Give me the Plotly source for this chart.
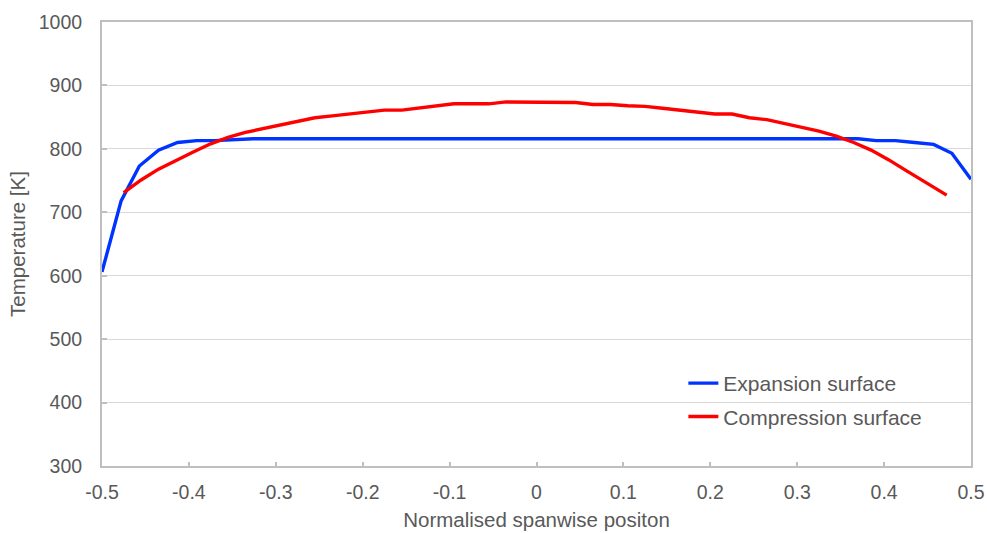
import plotly.graph_objects as go

# Expansion surface (blue)
exp_x = [-0.5, -0.478, -0.457, -0.435, -0.413, -0.391, -0.370, -0.348, -0.326,
         -0.2, 0.0, 0.2, 0.348, 0.370, 0.391, 0.413, 0.435, 0.457, 0.478, 0.5]
exp_y = [606, 718, 773, 798, 810, 813, 813, 814, 816,
         816, 816, 816, 816, 816, 813, 813, 810, 807, 793, 752]

# Compression surface (red)
comp_x = [-0.475, -0.455, -0.435, -0.415, -0.395, -0.375, -0.355, -0.335, -0.315,
          -0.295, -0.275, -0.255, -0.235, -0.215, -0.195, -0.175, -0.155, -0.135,
          -0.115, -0.095, -0.075, -0.055, -0.035, -0.015, 0.005, 0.025, 0.045,
          0.065, 0.085, 0.105, 0.125, 0.145, 0.165, 0.185, 0.205, 0.225, 0.245,
          0.265, 0.285, 0.305, 0.325, 0.345, 0.365, 0.385, 0.405, 0.425, 0.445,
          0.472]
comp_y = [731, 751, 768, 782, 795, 808, 818, 826, 832,
          838, 843, 849, 852, 855, 858, 861, 861, 864,
          868, 871, 871, 871, 874, 874, 874, 874, 873,
          870, 870, 868, 867, 864, 861, 857, 855, 855, 849,
          846, 840, 835, 828, 820, 810, 798, 783, 766, 749,
          727]

x_ticks = [-0.5, -0.4, -0.3, -0.2, -0.1, 0, 0.1, 0.2, 0.3, 0.4, 0.5]
x_labels = ["-0.5", "-0.4", "-0.3", "-0.2", "-0.1", "0", "0.1", "0.2", "0.3", "0.4", "0.5"]
y_ticks = [300, 400, 500, 600, 700, 800, 900, 1000]

FONT = "Liberation Sans, Arial, sans-serif"
TXT = "#595959"

fig = go.Figure()
fig.add_trace(go.Scatter(x=exp_x, y=exp_y, mode="lines", name="Expansion surface",
                         legendgroup="a",
                         line=dict(color="#0033FF", width=3.4)))
fig.add_trace(go.Scatter(x=comp_x, y=comp_y, mode="lines", name="Compression surface",
                         legendgroup="b",
                         line=dict(color="#FF0000", width=3.4)))

fig.update_layout(
    width=987, height=533,
    margin=dict(l=102, r=16, t=22, b=67, autoexpand=False),
    paper_bgcolor="white", plot_bgcolor="white",
    font=dict(family=FONT, color=TXT, size=18),
    showlegend=True,
    legend=dict(x=0.669, y=0.232, xanchor="left", yanchor="top",
                font=dict(size=21, color=TXT, family=FONT),
                traceorder="grouped", tracegroupgap=3,
                bgcolor="rgba(0,0,0,0)"),
)
fig.update_xaxes(
    range=[-0.5, 0.5], tickvals=x_ticks, ticktext=x_labels,
    showgrid=False, zeroline=False, automargin=False,
    showline=True, linecolor="#BFBFBF", linewidth=2, mirror=True,
    ticks="inside", ticklen=4, tickcolor="#BFBFBF", tickwidth=1.5,
    ticklabelstandoff=8,
    tickfont=dict(size=19.5, color=TXT, family=FONT),
    title=dict(text="Normalised spanwise positon", font=dict(size=20.5, color=TXT, family=FONT),
               standoff=10),
)
fig.update_yaxes(
    range=[300, 1000], tickvals=y_ticks,
    showgrid=True, gridcolor="#D9D9D9", gridwidth=1, zeroline=False, automargin=False,
    showline=True, linecolor="#BFBFBF", linewidth=2, mirror=True,
    ticks="inside", ticklen=5, tickcolor="#BFBFBF", tickwidth=1.5,
    ticklabelstandoff=14,
    tickfont=dict(size=19.5, color=TXT, family=FONT),
    title=dict(text="Temperature [K]", font=dict(size=20.5, color=TXT, family=FONT),
               standoff=8),
)

fig.write_html("out.html")
